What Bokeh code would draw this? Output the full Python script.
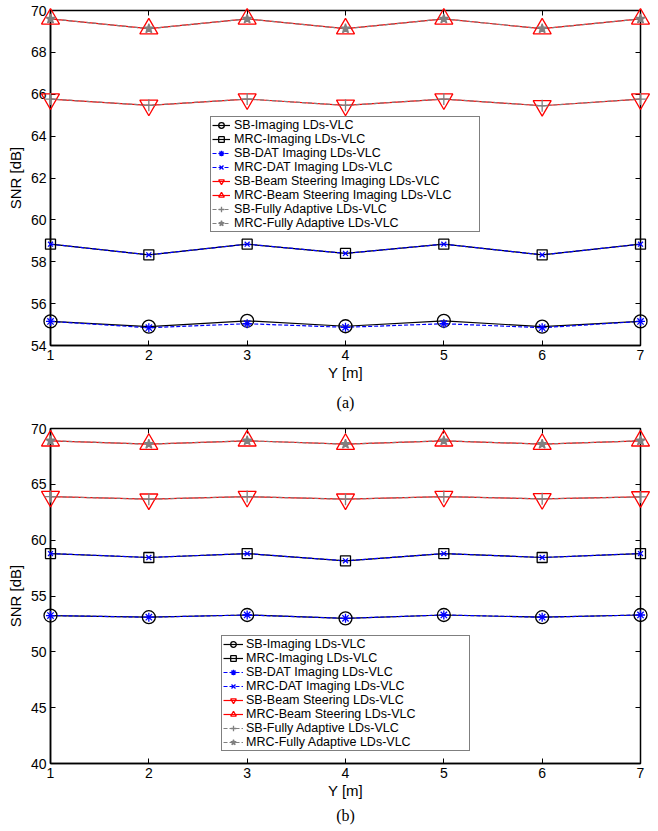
from bokeh.plotting import figure
from bokeh.models import Range1d, LinearAxis, Legend, LegendItem, Title, FixedTicker
from bokeh.layouts import column
from bokeh.embed import file_html
from bokeh.resources import INLINE

# ---------------- data ----------------
Y_POS = [1, 2, 3, 4, 5, 6, 7]

# panel (a)
a_sb_img = [55.15, 54.9, 55.18, 54.92, 55.18, 54.9, 55.15]
a_mrc_img = [58.84, 58.33, 58.84, 58.4, 58.84, 58.33, 58.84]
a_sb_dat = [55.15, 54.85, 55.04, 54.87, 55.04, 54.85, 55.15]
a_mrc_dat = [58.84, 58.33, 58.84, 58.4, 58.84, 58.33, 58.84]
a_sb_beam = [65.77, 65.47, 65.77, 65.47, 65.77, 65.45, 65.77]
a_mrc_beam = [69.6, 69.13, 69.6, 69.13, 69.6, 69.13, 69.6]
a_sb_fa = [65.77, 65.47, 65.77, 65.47, 65.77, 65.45, 65.77]
a_mrc_fa = [69.6, 69.13, 69.6, 69.13, 69.6, 69.13, 69.6]

# panel (b)
b_sb_img = [53.25, 53.1, 53.3, 53.0, 53.3, 53.1, 53.3]
b_mrc_img = [58.8, 58.45, 58.8, 58.15, 58.8, 58.45, 58.8]
b_sb_dat = [53.25, 53.1, 53.3, 53.0, 53.3, 53.1, 53.3]
b_mrc_dat = [58.8, 58.45, 58.8, 58.15, 58.8, 58.45, 58.8]
b_sb_beam = [63.9, 63.67, 63.9, 63.67, 63.9, 63.7, 63.87]
b_mrc_beam = [68.9, 68.6, 68.9, 68.6, 68.9, 68.6, 68.9]
b_sb_fa = [63.9, 63.67, 63.9, 63.67, 63.9, 63.7, 63.87]
b_mrc_fa = [68.9, 68.6, 68.9, 68.6, 68.9, 68.6, 68.9]

labels_a = ["SB-Imaging LDs-VLC", "MRC-Imaging LDs-VLC", "SB-DAT Imaging LDs-VLC",
            "MRC-DAT Imaging LDs-VLC", "SB-Beam Steering Imaging LDs-VLC",
            "MRC-Beam Steering Imaging LDs-VLC", "SB-Fully Adaptive LDs-VLC",
            "MRC-Fully Adaptive LDs-VLC"]
labels_b = ["SB-Imaging LDs-VLC", "MRC-Imaging LDs-VLC", "SB-DAT Imaging LDs-VLC",
            "MRC-DAT Imaging LDs-VLC", "SB-Beam Steering LDs-VLC",
            "MRC-Beam Steering LDs-VLC", "SB-Fully Adaptive LDs-VLC",
            "MRC-Fully Adaptive LDs-VLC"]

y_ticks_a = [54, 56, 58, 60, 62, 64, 66, 68, 70]
y_ticks_b = [40, 45, 50, 55, 60, 65, 70]

FONT = "Liberation Sans"

STYLES = [
    dict(color="black", dash="solid", marker="circle", size=13, fill=None),
    dict(color="black", dash="solid", marker="square", size=10, fill=None),
    dict(color="blue", dash="4 2", marker="asterisk", size=9, fill=None),
    dict(color="blue", dash="4 2", marker="x", size=7, fill=None),
    dict(color="red", dash="solid", marker="inverted_triangle", size=18, fill=None),
    dict(color="red", dash="solid", marker="triangle", size=18, fill=None),
    dict(color="gray", dash="4 2", marker="cross", size=12, fill=None),
    dict(color="gray", dash="4 2", marker="star", size=10, fill="gray"),
]


def blank_axis(ticks):
    return LinearAxis(ticker=FixedTicker(ticks=ticks),
                      major_label_overrides={t: "" for t in ticks},
                      major_label_text_font_size="1px", major_label_text_color=None,
                      major_label_standoff=0, axis_label_standoff=0,
                      major_tick_in=5, major_tick_out=0,
                      minor_tick_in=0, minor_tick_out=0,
                      minor_tick_line_color=None, axis_line_color=None,
                      major_tick_line_color="black")


def make_panel(series, labels, yr, yticks, caption, width, height,
               border_top, border_right, legend_loc, glyph_w, standoff, label_w,
               tick_standoff, lab_standoff, title_standoff):
    p = figure(width=width, height=height, x_range=Range1d(1, 7), y_range=Range1d(*yr),
               output_backend="svg", toolbar_location=None,
               min_border_left=50, min_border_right=border_right,
               min_border_top=border_top, min_border_bottom=0)
    p.grid.visible = False
    p.outline_line_color = "black"
    p.outline_line_width = 1.5
    p.background_fill_color = "white"
    p.border_fill_color = "white"

    p.xaxis.ticker = FixedTicker(ticks=Y_POS)
    p.yaxis.ticker = FixedTicker(ticks=yticks)
    for ax in (p.xaxis[0], p.yaxis[0]):
        ax.major_tick_in = 5
        ax.major_tick_out = 0
        ax.minor_tick_in = 0
        ax.minor_tick_out = 0
        ax.minor_tick_line_color = None
        ax.axis_line_width = 1.5
        ax.axis_line_color = "black"
        ax.major_tick_line_color = "black"
        ax.major_label_text_font = FONT
        ax.major_label_text_font_size = "14px"
        ax.major_label_text_color = "black"
        ax.major_label_standoff = 4
        ax.axis_label_text_font = FONT
        ax.axis_label_text_font_size = "15px"
        ax.axis_label_text_font_style = "normal"
        ax.axis_label_text_color = "black"
        ax.axis_label_standoff = 4
    p.xaxis[0].major_label_standoff = tick_standoff
    p.xaxis[0].axis_label_standoff = lab_standoff
    p.xaxis.axis_label = "Y [m]"
    p.yaxis.axis_label = "SNR [dB]"

    p.add_layout(blank_axis(Y_POS), "above")
    p.add_layout(blank_axis(yticks), "right")

    rends = {}
    for i in range(8):
        st = STYLES[i]
        ln = p.line(Y_POS, series[i], line_color=st["color"], line_width=1.2,
                    line_dash=st["dash"])
        sc = p.scatter(Y_POS, series[i], marker=st["marker"], size=st["size"],
                       line_color=st["color"], line_width=1.3,
                       fill_color=st["fill"], level="overlay")
        rends[i] = [ln, sc]
    items = [LegendItem(label=labels[i], renderers=rends[i]) for i in range(8)]

    leg = Legend(items=items, location=legend_loc, border_line_color="black",
                 border_line_width=1, background_fill_color="white",
                 background_fill_alpha=1.0, padding=1, spacing=0, margin=0,
                 glyph_width=glyph_w, glyph_height=14, label_height=14,
                 label_standoff=standoff, label_width=label_w,
                 label_text_font=FONT, label_text_font_size="12.5px",
                 label_text_line_height=1.0, label_text_color="black")
    p.add_layout(leg)

    t = Title(text=caption, align="center", text_font="Liberation Serif",
              text_font_size="16px", text_font_style="normal", text_color="black",
              standoff=title_standoff)
    p.add_layout(t, "below")
    return p


pa = make_panel([a_sb_img, a_mrc_img, a_sb_dat, a_mrc_dat, a_sb_beam, a_mrc_beam,
                 a_sb_fa, a_mrc_fa], labels_a, (54, 70), y_ticks_a, "(a)",
                658, 419, 10, 14, (160, 113), 18, 4, 244, 4, 1, 17)
pb = make_panel([b_sb_img, b_mrc_img, b_sb_dat, b_mrc_dat, b_sb_beam, b_mrc_beam,
                 b_sb_fa, b_mrc_fa], labels_b, (40, 70), y_ticks_b, "(b)",
                658, 407, 9, 18, (171, 12), 20, 3, 222, 4, 1, 6)

layout = column(pa, pb, spacing=0)
open("out.html", "w").write(file_html(layout, INLINE))
